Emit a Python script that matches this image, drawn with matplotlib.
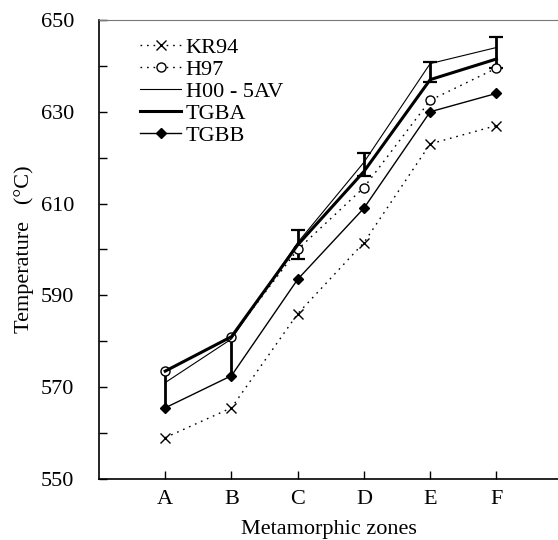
import matplotlib
matplotlib.use("Agg")
import matplotlib.pyplot as plt
import numpy as np

plt.rcParams['font.family'] = ['Liberation Serif', 'DejaVu Serif']

zones = ['A', 'B', 'C', 'D', 'E', 'F']
kr94 = [559, 565.5, 586, 601.5, 623, 627]
h97 = [573.5, 581, 600, 613.5, 632.5, 639.5]
h00 = [571, 580.5, 601.5, 619, 640.5, 644]
tgba = [573.5, 581, 601, 617, 637, 641.5]
tgba_lo = [8, 8.5, 3, 1, 0.5, 2]
tgba_hi = [0, 0, 3.2, 4, 3.8, 4.8]
tgbb = [565.5, 572.5, 593.5, 609, 630, 634]

x = np.arange(1, len(zones) + 1)
tgba = np.array(tgba)
err = np.array([tgba_lo, tgba_hi])

fig = plt.figure(figsize=(5.58, 5.4), dpi=100)
ax = fig.add_axes([0.1774, 0.113, 0.8226, 0.85])

dots = (0, (1.2, 3.5))
# first two zones: bars without caps, the rest capped
ax.errorbar(x[:2], tgba[:2], yerr=err[:, :2], fmt='none', ecolor='black',
            elinewidth=2, capsize=0, zorder=2)
ax.errorbar(x[2:], tgba[2:], yerr=err[:, 2:], fmt='none', ecolor='black',
            elinewidth=2, capsize=5, capthick=1.6, zorder=2)
ax.plot(x, kr94, color='black', lw=1, linestyle=dots, marker='x', ms=7,
        mew=1, label='KR94', zorder=3)
ax.plot(x, h97, color='black', lw=1, linestyle=dots, marker='o', ms=6.5,
        mfc='white', mew=1, label='H97', zorder=3)
ax.plot(x, h00, color='black', lw=0.8, label='H00 - 5AV', zorder=3)
ax.plot(x, tgba, color='black', lw=2.2, label='TGBA', zorder=3)
ax.plot(x, tgbb, color='black', lw=1, marker='D', ms=5.5, label='TGBB', zorder=4)

ax.set_xlim(0, 6.93)
ax.set_ylim(550, 650)
ax.set_xticks(x)
ax.set_xticklabels(zones)
ax.set_yticks(np.arange(550, 651, 20))
ax.set_yticks(np.arange(560, 650, 20), minor=True)
ax.tick_params(axis='both', which='both', direction='in', length=6,
               labelsize=16, width=1)
ax.tick_params(axis='y', pad=18)
ax.tick_params(axis='x', pad=8)

ax.spines['right'].set_visible(False)
ax.spines['top'].set_color('#777777')
ax.spines['left'].set_linewidth(1.2)
ax.spines['bottom'].set_linewidth(1.2)

ax.set_xlabel('Metamorphic zones', fontsize=16, labelpad=8)
ax.set_ylabel('Temperature   (°C)', fontsize=16, labelpad=5)

ax.legend(loc='upper left', bbox_to_anchor=(0.07, 0.982), frameon=False,
          fontsize=16, handlelength=1.85, handletextpad=0.2, labelspacing=0.07,
          borderaxespad=0)

fig.savefig('out.png', dpi=100)
